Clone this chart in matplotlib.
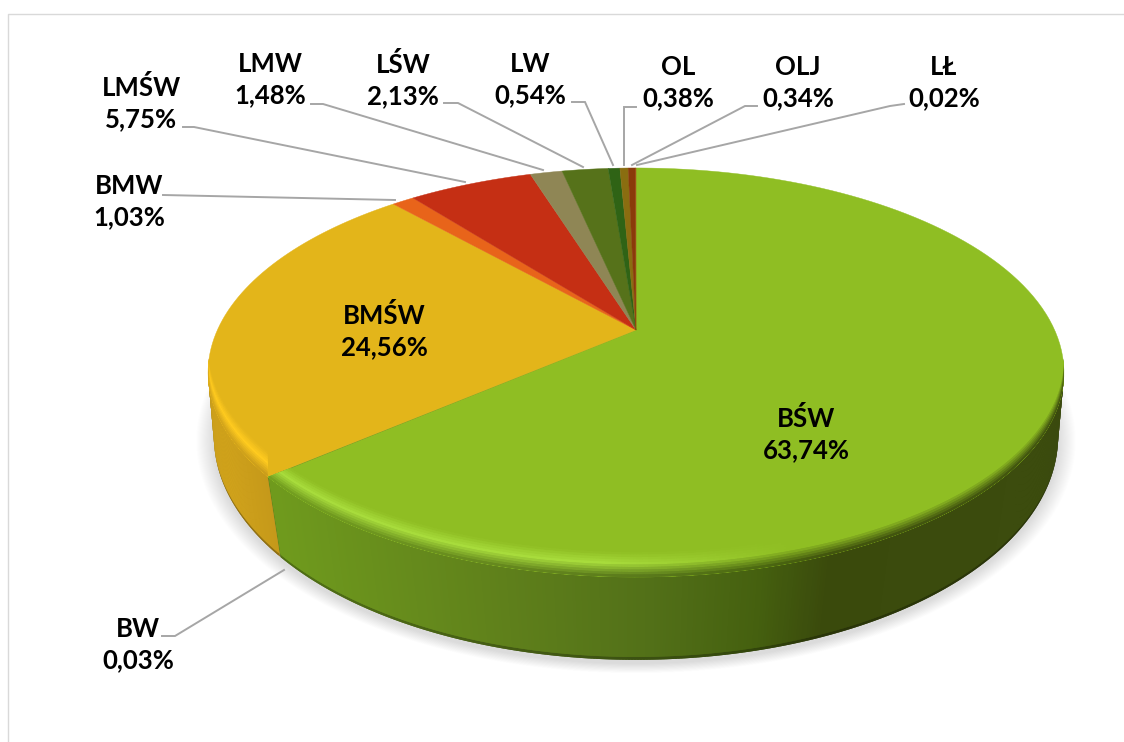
import numpy as np
import matplotlib
matplotlib.use("Agg")
import matplotlib.pyplot as plt
from matplotlib.collections import PolyCollection
from matplotlib.colors import to_rgb
from matplotlib.path import Path
from matplotlib.transforms import Affine2D, Transform

# dane
names = ["BŚW", "BW", "BMŚW", "BMW", "LMŚW", "LMW", "LŚW", "LW", "OL", "OLJ", "LŁ"]
values = [63.74, 0.03, 24.56, 1.03, 5.75, 1.48, 2.13, 0.54, 0.38, 0.34, 0.02]
colors = ["#8fbe23", "#6f9a1d", "#e3b51a", "#e8641a", "#c52f14", "#8f8655",
          "#56721a", "#2f6315", "#8a6d10", "#8a3a0a", "#a04a10"]

# polozenie etykiet (piksele)
label_pos = [(806, 434), (138, 645), (384, 331), (129, 202), (141, 103), (270, 80),
             (403, 80), (530, 80), (678, 83), (798, 83), (944, 83)]
leaders = [None,
           [(162, 636), (175, 636), (284, 570)],
           None,
           [(163, 195), (395, 200)],
           [(183, 127), (194, 127), (465, 182)],
           [(311, 104), (323, 104), (543, 170)],
           [(444, 103), (458, 103), (583, 167)],
           [(572, 102), (585, 102), (613, 165)],
           [(636, 107), (624, 107), (624, 165)],
           [(757, 106), (745, 106), (632, 165)],
           [(904, 104), (890, 106), (637, 165)]]

# geometria: rzut perspektywiczny kola
TOP = dict(cx=636, cy=330, a=418.6, b=195.7, k=0.2078)
BOTTOM = dict(cx=636, cy=399, a=415.9, b=216.5, k=0.17)


def project(x, y, p):
    w = 1 + p["k"] * y
    return p["cx"] + p["a"] * x / w, p["cy"] - p["b"] * y / w


class PiePerspective(Transform):
    input_dims = 2
    output_dims = 2
    is_separable = False

    def __init__(self, p):
        super().__init__()
        self.p = p

    def transform_non_affine(self, values):
        values = np.asarray(values)
        return np.column_stack(project(values[:, 0], values[:, 1], self.p))

    def transform_path_non_affine(self, path):
        # krzywe trzeba splaszczyc zanim pojdzie perspektywa
        poly = path.to_polygons(Affine2D().scale(1000))[0] / 1000
        return Path(self.transform_non_affine(poly))


def on_circle(deg, p):
    t = np.radians(deg)
    return project(np.sin(t), np.cos(t), p)


def side_color(x, name):
    if name == "amber":
        xs, cols = [208, 282], ["#d3a51b", "#c2961a"]
    else:
        xs = [276, 500, 650, 760, 830, 1065]
        cols = ["#6f9a1d", "#5f801b", "#527018", "#45600f", "#3a4a0c", "#3c4c0e"]
    rgb = np.array([to_rgb(c) for c in cols])
    return np.array([np.interp(x, xs, rgb[:, i]) for i in range(3)])


def blend(c1, c2, t):
    return np.array(c1) * (1 - t) + np.array(c2) * t


fig = plt.figure(figsize=(11.24, 7.42), dpi=100)
ax = fig.add_axes([0, 0, 1, 1])

wedges, _ = ax.pie(values, colors=colors, startangle=90, counterclock=False,
                   wedgeprops=dict(linewidth=0.3))
ax.set_aspect("auto")
ax.set_xlim(0, 1124)
ax.set_ylim(742, 0)
ax.axis("off")

# ramka
ax.plot([1124, 7.5, 7.5], [13.5, 13.5, 742], color="#d9d9d9", lw=1.0, zorder=0)

# cien pod kolem
th = np.linspace(0, 360, 361)
sx, sy = on_circle(th, BOTTOM)
for e in np.linspace(18, 0, 18):
    f = 1 + e / 430
    ax.fill(636 + (sx - 636) * f, 437 + (sy - 437) * f + 4, color="black", alpha=0.009, lw=0, zorder=1)

persp = PiePerspective(TOP)
for w in wedges:
    w.set_edgecolor(w.get_facecolor())
    w.set_transform(persp + ax.transData)
    w.set_zorder(4)

# bok i fazowanie krawedzi - tylko przednia czesc
front_a = np.degrees(np.arccos(-TOP["k"]))
front_b = 360 - front_a
edges = 360 * np.concatenate([[0], np.cumsum(values)]) / np.sum(values)
RIM = 25
rim_steps = np.linspace(0, 1, 11)[:-1]
for i in range(len(values)):
    a, b = max(edges[i], front_a), min(edges[i + 1], front_b)
    if b <= a:
        continue
    dark_polys, dark_cols, side_polys, side_cols = [], [], [], []
    rim_layers = [([], []) for _ in rim_steps]
    kind = "amber" if names[i] == "BMŚW" else "green"
    bright = to_rgb("#ffcb1f" if kind == "amber" else "#a8dc3c")
    base = to_rgb(colors[i])
    grid = np.linspace(a, b, max(2, int((b - a) * 3)))
    # paski zachodza na siebie, zeby nie bylo szwow
    for t1, t2 in zip(grid[:-1], np.append(grid[2:], b)):
        x1, y1 = on_circle(t1, TOP)
        x2, y2 = on_circle(t2, TOP)
        x3, y3 = on_circle(t2, BOTTOM)
        x4, y4 = on_circle(t1, BOTTOM)
        xm = (x1 + x2) / 2
        col = side_color(xm, kind)
        dark_polys.append([(x1, y1), (x2, y2), (x3, y3), (x4, y4)])
        dark_cols.append(col * 0.72)
        r2 = 0.965
        side_polys.append([(x1, y1), (x2, y2),
                           (x2 + (x3 - x2) * r2, y2 + (y3 - y2) * r2),
                           (x1 + (x4 - x1) * r2, y1 + (y4 - y1) * r2)])
        side_cols.append(col)
        # faza
        h = np.interp(xm, [276, 600, 790], [1, 1, 0])
        top_col = blend(base, bright, h)
        for j, r1 in enumerate(rim_steps):
            rm = r1 + 0.05
            if rm < 0.45:
                c = blend(base, top_col, rm / 0.45)
            else:
                c = blend(top_col, col, (rm - 0.45) / 0.55)
            rim_layers[j][0].append([(x1, y1 - RIM * (1 - r1)), (x2, y2 - RIM * (1 - r1)),
                                     (x2, y2), (x1, y1)])
            rim_layers[j][1].append(c)
    ax.add_collection(PolyCollection(dark_polys + side_polys, facecolors=dark_cols + side_cols,
                                     edgecolors="none", zorder=3), autolim=False)
    rim_polys = [q for layer in rim_layers for q in layer[0]]
    rim_cols = [c for layer in rim_layers for c in layer[1]]
    rim = PolyCollection(rim_polys, facecolors=rim_cols, edgecolors="none", zorder=5)
    ax.add_collection(rim, autolim=False)
    rim.set_clip_path(persp.transform_path_non_affine(wedges[i].get_path()), ax.transData)

# etykiety
for name, v, pos, lead in zip(names, values, label_pos, leaders):
    txt = f"{name}\n{v:.2f}%".replace(".", ",")
    ax.text(pos[0], pos[1], txt, ha="center", va="center", family="Lato",
            fontweight="bold", fontsize=18.5, color="black", linespacing=1.36, zorder=8)
    if lead:
        ax.plot([p[0] for p in lead], [p[1] for p in lead], color="#a6a6a6", lw=1.4,
                solid_joinstyle="miter", zorder=7)

fig.savefig("out.png", dpi=100)
